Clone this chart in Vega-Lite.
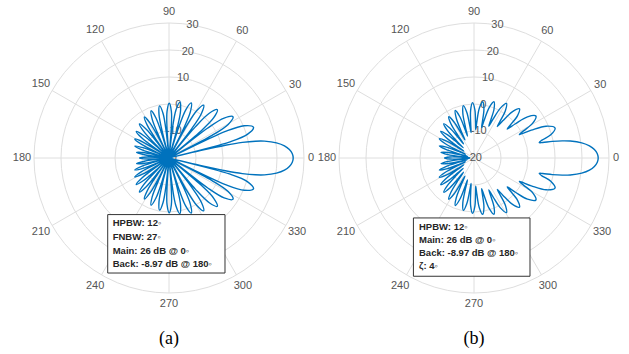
{
"$schema":"https://vega.github.io/schema/vega-lite/v6.json",
"padding":{"left":12,"top":6,"right":5,"bottom":5},
"bounds":"flush",
"spacing":5,
"config":{"view":{"stroke":null},"font":"Liberation Sans"},
"datasets":{
"rings":[{"v":-10},{"v":0},{"v":10},{"v":20},{"v":30}],
"spokes":[{"a":0},{"a":30},{"a":60},{"a":90},{"a":120},{"a":150}],
"ang":[{"a":0,"s":"0"},{"a":30,"s":"30"},{"a":60,"s":"60"},{"a":90,"s":"90"},{"a":120,"s":"120"},{"a":150,"s":"150"},{"a":180,"s":"180"},{"a":210,"s":"210"},{"a":240,"s":"240"},{"a":270,"s":"270"},{"a":300,"s":"300"},{"a":330,"s":"330"}],
"rt":[{"v":-20,"s":"-20"},{"v":-10,"s":"-10"},{"v":0,"s":"0"},{"v":10,"s":"10"},{"v":20,"s":"20"},{"v":30,"s":"30"}],
"a":[{"t":-180,"v":-8.97},{"t":-177.5,"v":-12},{"t":-176,"v":-19.2},{"t":-175,"v":-20},{"t":-174.05,"v":-18},{"t":-172.6,"v":-10.8},{"t":-170.25,"v":-7.8},{"t":-167.9,"v":-10.8},{"t":-166.45,"v":-18},{"t":-165.5,"v":-20},{"t":-164.55,"v":-16.8},{"t":-163.1,"v":-9.6},{"t":-160.75,"v":-6.6},{"t":-158.4,"v":-9.6},{"t":-156.95,"v":-16.8},{"t":-156,"v":-20},{"t":-155,"v":-15.7},{"t":-153.5,"v":-8.5},{"t":-151,"v":-5.5},{"t":-148.5,"v":-8.5},{"t":-147,"v":-15.7},{"t":-146,"v":-20},{"t":-145,"v":-14.6},{"t":-143.5,"v":-7.4},{"t":-141,"v":-4.4},{"t":-138.5,"v":-7.4},{"t":-137,"v":-14.6},{"t":-136,"v":-20},{"t":-135,"v":-13.5},{"t":-133.5,"v":-6.3},{"t":-131,"v":-3.3},{"t":-128.5,"v":-6.3},{"t":-127,"v":-13.5},{"t":-126,"v":-20},{"t":-125,"v":-12.5},{"t":-123.5,"v":-5.3},{"t":-121,"v":-2.3},{"t":-118.5,"v":-5.3},{"t":-117,"v":-12.5},{"t":-116,"v":-20},{"t":-114.95,"v":-11.5},{"t":-113.4,"v":-4.3},{"t":-110.75,"v":-1.3},{"t":-108.1,"v":-4.3},{"t":-106.55,"v":-11.5},{"t":-105.5,"v":-20},{"t":-104.45,"v":-10.6},{"t":-102.9,"v":-3.4},{"t":-100.25,"v":-0.4},{"t":-97.6,"v":-3.4},{"t":-96.05,"v":-10.6},{"t":-95,"v":-20},{"t":-93.95,"v":-9.9},{"t":-92.4,"v":-2.7},{"t":-89.75,"v":0.3},{"t":-87.1,"v":-2.7},{"t":-85.55,"v":-9.9},{"t":-84.5,"v":-20},{"t":-83.4,"v":-9.2},{"t":-81.75,"v":-2},{"t":-79,"v":1},{"t":-76.25,"v":-2},{"t":-74.6,"v":-9.2},{"t":-73.5,"v":-20},{"t":-72.4,"v":-8.2},{"t":-70.75,"v":-1},{"t":-68,"v":2},{"t":-65.25,"v":-1},{"t":-63.6,"v":-8.2},{"t":-62.5,"v":-20},{"t":-61.35,"v":-6.8},{"t":-59.6,"v":0.4},{"t":-56.75,"v":3.4},{"t":-53.9,"v":0.4},{"t":-52.15,"v":-6.8},{"t":-51,"v":-20},{"t":-49.8,"v":-4.9},{"t":-48,"v":2.3},{"t":-45,"v":5.3},{"t":-42,"v":2.3},{"t":-40.2,"v":-4.9},{"t":-39,"v":-20},{"t":-37.75,"v":-2},{"t":-35.9,"v":5.2},{"t":-32.75,"v":8.2},{"t":-29.6,"v":5.2},{"t":-27.75,"v":-2},{"t":-26.5,"v":-20},{"t":-25.2,"v":3.1},{"t":-23.25,"v":10.3},{"t":-20,"v":13.3},{"t":-16.75,"v":10.3},{"t":-14.8,"v":3.1},{"t":-13.5,"v":-20},{"t":-13.25,"v":-8.5},{"t":-12.75,"v":1.4},{"t":-12,"v":7.8},{"t":-11,"v":12.6},{"t":-10,"v":15.9},{"t":-8,"v":20.2},{"t":-6,"v":23},{"t":-4,"v":24.7},{"t":-2,"v":25.7},
{"t":0,"v":26},{"t":2,"v":25.7},{"t":4,"v":24.7},{"t":6,"v":23},{"t":8,"v":20.2},{"t":10,"v":15.9},{"t":11,"v":12.6},{"t":12,"v":7.8},{"t":12.75,"v":1.4},{"t":13.25,"v":-8.5},{"t":13.5,"v":-20},{"t":14.8,"v":3.1},{"t":16.75,"v":10.3},{"t":20,"v":13.3},{"t":23.25,"v":10.3},{"t":25.2,"v":3.1},{"t":26.5,"v":-20},{"t":27.75,"v":-2},{"t":29.6,"v":5.2},{"t":32.75,"v":8.2},{"t":35.9,"v":5.2},{"t":37.75,"v":-2},{"t":39,"v":-20},{"t":40.2,"v":-4.9},{"t":42,"v":2.3},{"t":45,"v":5.3},{"t":48,"v":2.3},{"t":49.8,"v":-4.9},{"t":51,"v":-20},{"t":52.15,"v":-6.8},{"t":53.9,"v":0.4},{"t":56.75,"v":3.4},{"t":59.6,"v":0.4},{"t":61.35,"v":-6.8},{"t":62.5,"v":-20},{"t":63.6,"v":-8.2},{"t":65.25,"v":-1},{"t":68,"v":2},{"t":70.75,"v":-1},{"t":72.4,"v":-8.2},{"t":73.5,"v":-20},{"t":74.6,"v":-9.2},{"t":76.25,"v":-2},{"t":79,"v":1},{"t":81.75,"v":-2},{"t":83.4,"v":-9.2},{"t":84.5,"v":-20},{"t":85.55,"v":-9.9},{"t":87.1,"v":-2.7},{"t":89.75,"v":0.3},{"t":92.4,"v":-2.7},{"t":93.95,"v":-9.9},{"t":95,"v":-20},{"t":96.05,"v":-10.6},{"t":97.6,"v":-3.4},{"t":100.25,"v":-0.4},{"t":102.9,"v":-3.4},{"t":104.45,"v":-10.6},{"t":105.5,"v":-20},{"t":106.55,"v":-11.5},{"t":108.1,"v":-4.3},{"t":110.75,"v":-1.3},{"t":113.4,"v":-4.3},{"t":114.95,"v":-11.5},{"t":116,"v":-20},{"t":117,"v":-12.5},{"t":118.5,"v":-5.3},{"t":121,"v":-2.3},{"t":123.5,"v":-5.3},{"t":125,"v":-12.5},{"t":126,"v":-20},{"t":127,"v":-13.5},{"t":128.5,"v":-6.3},{"t":131,"v":-3.3},{"t":133.5,"v":-6.3},{"t":135,"v":-13.5},{"t":136,"v":-20},{"t":137,"v":-14.6},{"t":138.5,"v":-7.4},{"t":141,"v":-4.4},{"t":143.5,"v":-7.4},{"t":145,"v":-14.6},{"t":146,"v":-20},{"t":147,"v":-15.7},{"t":148.5,"v":-8.5},{"t":151,"v":-5.5},{"t":153.5,"v":-8.5},{"t":155,"v":-15.7},{"t":156,"v":-20},{"t":156.95,"v":-16.8},{"t":158.4,"v":-9.6},{"t":160.75,"v":-6.6},{"t":163.1,"v":-9.6},{"t":164.55,"v":-16.8},{"t":165.5,"v":-20},{"t":166.45,"v":-18},{"t":167.9,"v":-10.8},{"t":170.25,"v":-7.8},{"t":172.6,"v":-10.8},{"t":174.05,"v":-18},{"t":175,"v":-20},{"t":176,"v":-19.2},{"t":177.5,"v":-12},{"t":180,"v":-8.97}],
"b":[{"t":-180,"v":-8.97},{"t":-177.5,"v":-11.1},{"t":-176,"v":-15.8},{"t":-175,"v":-18.5},{"t":-174.05,"v":-15.3},{"t":-172.6,"v":-10.3},{"t":-170.25,"v":-7.6},{"t":-167.9,"v":-10.2},{"t":-166.45,"v":-14.9},{"t":-165.5,"v":-17.5},{"t":-164.55,"v":-14.2},{"t":-163.1,"v":-9.1},{"t":-160.75,"v":-6.4},{"t":-158.4,"v":-9},{"t":-156.95,"v":-13.8},{"t":-156,"v":-16.5},{"t":-155,"v":-13.1},{"t":-153.5,"v":-8},{"t":-151,"v":-5.3},{"t":-148.5,"v":-7.9},{"t":-147,"v":-12.75},{"t":-146,"v":-15.5},{"t":-145.05,"v":-12.1},{"t":-143.6,"v":-6.9},{"t":-141.25,"v":-4.2},{"t":-138.9,"v":-6.85},{"t":-137.45,"v":-11.7},{"t":-136.5,"v":-14.5},{"t":-135.5,"v":-11},{"t":-134,"v":-5.8},{"t":-131.5,"v":-3.1},{"t":-129,"v":-5.75},{"t":-127.5,"v":-10.65},{"t":-126.5,"v":-13.5},{"t":-125.5,"v":-10},{"t":-124,"v":-4.8},{"t":-121.5,"v":-2.1},{"t":-119,"v":-4.75},{"t":-117.5,"v":-9.65},{"t":-116.5,"v":-12.5},{"t":-115.5,"v":-9},{"t":-114,"v":-3.8},{"t":-111.5,"v":-1.1},{"t":-109,"v":-3.75},{"t":-107.5,"v":-8.65},{"t":-106.5,"v":-11.5},{"t":-105.5,"v":-8.1},{"t":-104,"v":-2.9},{"t":-101.5,"v":-0.2},{"t":-99,"v":-2.85},{"t":-97.5,"v":-7.7},{"t":-96.5,"v":-10.5},{"t":-95.5,"v":-7.2},{"t":-94,"v":-2.2},{"t":-91.5,"v":0.5},{"t":-89,"v":-2.1},{"t":-87.5,"v":-6.85},{"t":-86.5,"v":-9.5},{"t":-85.45,"v":-6.4},{"t":-83.9,"v":-1.5},{"t":-81.25,"v":1.1},{"t":-78.6,"v":-1.4},{"t":-77.05,"v":-5.9},{"t":-76,"v":-8.3},{"t":-74.9,"v":-5.4},{"t":-73.25,"v":-0.5},{"t":-70.5,"v":2.1},{"t":-67.75,"v":-0.4},{"t":-66.1,"v":-4.8},{"t":-65,"v":-7},{"t":-63.85,"v":-4},{"t":-62.1,"v":0.9},{"t":-59.25,"v":3.5},{"t":-56.4,"v":1},{"t":-54.65,"v":-3.35},{"t":-53.5,"v":-5.5},{"t":-52.25,"v":-2.6},{"t":-50.4,"v":2.2},{"t":-47.25,"v":4.8},{"t":-44.1,"v":2.4},{"t":-42.25,"v":-1.8},{"t":-41,"v":-3.7},{"t":-39.6,"v":-0.1},{"t":-37.6,"v":5},{"t":-34.15,"v":7.7},{"t":-30.7,"v":5.3},{"t":-28.7,"v":0.9},{"t":-27.3,"v":-1.1},{"t":-25.9,"v":3.6},{"t":-23.8,"v":9.2},{"t":-20.3,"v":12},{"t":-16.8,"v":9.7},{"t":-14.7,"v":6},{"t":-13.3,"v":4.8},{"t":-12.75,"v":6.1},{"t":-12,"v":9.6},{"t":-11,"v":13.3},{"t":-10,"v":16.2},{"t":-8,"v":20.3},{"t":-6,"v":23},{"t":-4,"v":24.7},{"t":-2,"v":25.7},
{"t":0,"v":26},{"t":2,"v":25.7},{"t":4,"v":24.7},{"t":6,"v":23},{"t":8,"v":20.3},{"t":10,"v":16.2},{"t":11,"v":13.3},{"t":12,"v":9.6},{"t":12.75,"v":6.1},{"t":13.3,"v":4.8},{"t":14.7,"v":6},{"t":16.8,"v":9.7},{"t":20.3,"v":12},{"t":23.8,"v":9.2},{"t":25.9,"v":3.6},{"t":27.3,"v":-1.1},{"t":28.7,"v":0.9},{"t":30.7,"v":5.3},{"t":34.15,"v":7.7},{"t":37.6,"v":5},{"t":39.6,"v":-0.1},{"t":41,"v":-3.7},{"t":42.25,"v":-1.8},{"t":44.1,"v":2.4},{"t":47.25,"v":4.8},{"t":50.4,"v":2.2},{"t":52.25,"v":-2.6},{"t":53.5,"v":-5.5},{"t":54.65,"v":-3.35},{"t":56.4,"v":1},{"t":59.25,"v":3.5},{"t":62.1,"v":0.9},{"t":63.85,"v":-4},{"t":65,"v":-7},{"t":66.1,"v":-4.8},{"t":67.75,"v":-0.4},{"t":70.5,"v":2.1},{"t":73.25,"v":-0.5},{"t":74.9,"v":-5.4},{"t":76,"v":-8.3},{"t":77.05,"v":-5.9},{"t":78.6,"v":-1.4},{"t":81.25,"v":1.1},{"t":83.9,"v":-1.5},{"t":85.45,"v":-6.4},{"t":86.5,"v":-9.5},{"t":87.5,"v":-6.85},{"t":89,"v":-2.1},{"t":91.5,"v":0.5},{"t":94,"v":-2.2},{"t":95.5,"v":-7.2},{"t":96.5,"v":-10.5},{"t":97.5,"v":-7.7},{"t":99,"v":-2.85},{"t":101.5,"v":-0.2},{"t":104,"v":-2.9},{"t":105.5,"v":-8.1},{"t":106.5,"v":-11.5},{"t":107.5,"v":-8.65},{"t":109,"v":-3.75},{"t":111.5,"v":-1.1},{"t":114,"v":-3.8},{"t":115.5,"v":-9},{"t":116.5,"v":-12.5},{"t":117.5,"v":-9.65},{"t":119,"v":-4.75},{"t":121.5,"v":-2.1},{"t":124,"v":-4.8},{"t":125.5,"v":-10},{"t":126.5,"v":-13.5},{"t":127.5,"v":-10.65},{"t":129,"v":-5.75},{"t":131.5,"v":-3.1},{"t":134,"v":-5.8},{"t":135.5,"v":-11},{"t":136.5,"v":-14.5},{"t":137.45,"v":-11.7},{"t":138.9,"v":-6.85},{"t":141.25,"v":-4.2},{"t":143.6,"v":-6.9},{"t":145.05,"v":-12.1},{"t":146,"v":-15.5},{"t":147,"v":-12.75},{"t":148.5,"v":-7.9},{"t":151,"v":-5.3},{"t":153.5,"v":-8},{"t":155,"v":-13.1},{"t":156,"v":-16.5},{"t":156.95,"v":-13.8},{"t":158.4,"v":-9},{"t":160.75,"v":-6.4},{"t":163.1,"v":-9.1},{"t":164.55,"v":-14.2},{"t":165.5,"v":-17.5},{"t":166.45,"v":-14.9},{"t":167.9,"v":-10.2},{"t":170.25,"v":-7.6},{"t":172.6,"v":-10.3},{"t":174.05,"v":-15.3},{"t":175,"v":-18.5},{"t":176,"v":-15.8},{"t":177.5,"v":-11.1},{"t":180,"v":-8.97}]
},
"hconcat":[
{"width":300,"height":300,
"title":{"text":"(a)","orient":"bottom","frame":"group","anchor":"middle","offset":21,"font":"Liberation Serif","fontSize":18,"fontWeight":"normal","color":"#000000"},
"layer":[
{"data":{"name":"rings"},"transform":[{"calculate":"datum.v+20","as":"r"}],"mark":{"type":"arc","theta":0,"theta2":6.2832,"filled":false,"color":"#dedede","strokeWidth":1},"encoding":{"radius":{"field":"r","type":"quantitative","stack":null,"scale":{"type":"linear","domain":[0,50],"range":[0,135],"zero":true}}}},
{"data":{"name":"spokes"},"transform":[{"calculate":"50*cos(datum.a*PI/180)","as":"x"},{"calculate":"50*sin(datum.a*PI/180)","as":"y"},{"calculate":"-datum.x","as":"x2"},{"calculate":"-datum.y","as":"y2"}],"mark":{"type":"rule","color":"#dedede","strokeWidth":1},"encoding":{"x":{"field":"x","type":"quantitative","scale":{"domain":[-55.556,55.556],"nice":false,"zero":false},"axis":null},"y":{"field":"y","type":"quantitative","scale":{"domain":[-55.556,55.556],"nice":false,"zero":false},"axis":null},"x2":{"field":"x2"},"y2":{"field":"y2"}}},
{"data":{"name":"rt"},"transform":[{"calculate":"(datum.v+20)*cos(80*PI/180)","as":"x"},{"calculate":"(datum.v+20)*sin(80*PI/180)","as":"y"}],"mark":{"type":"text","align":"center","baseline":"middle","fontSize":11,"color":"#555555"},"encoding":{"x":{"field":"x","type":"quantitative","scale":{"domain":[-55.556,55.556],"nice":false,"zero":false},"axis":null},"y":{"field":"y","type":"quantitative","scale":{"domain":[-55.556,55.556],"nice":false,"zero":false},"axis":null},"text":{"field":"s"}}},
{"data":{"name":"ang"},"transform":[{"calculate":"abs(cos(datum.a*PI/180))","as":"c"},{"calculate":"53.89-1.296*pow(datum.c,4)+0.926*datum.c*(length(datum.s)-1)","as":"R"},{"calculate":"datum.R*cos(datum.a*PI/180)","as":"x"},{"calculate":"datum.R*sin(datum.a*PI/180)","as":"y"}],"mark":{"type":"text","align":"center","baseline":"middle","fontSize":11,"color":"#555555"},"encoding":{"x":{"field":"x","type":"quantitative","scale":{"domain":[-55.556,55.556],"nice":false,"zero":false},"axis":null},"y":{"field":"y","type":"quantitative","scale":{"domain":[-55.556,55.556],"nice":false,"zero":false},"axis":null},"text":{"field":"s"}}},
{"data":{"name":"a"},"transform":[{"calculate":"max(datum.v+20,0)","as":"r"},{"calculate":"datum.r*cos(datum.t*PI/180)","as":"x"},{"calculate":"datum.r*sin(datum.t*PI/180)","as":"y"}],"mark":{"type":"line","interpolate":"catmull-rom","color":"#0072BD","strokeWidth":1.4},"encoding":{"x":{"field":"x","type":"quantitative","scale":{"domain":[-55.556,55.556],"nice":false,"zero":false},"axis":null},"y":{"field":"y","type":"quantitative","scale":{"domain":[-55.556,55.556],"nice":false,"zero":false},"axis":null},"order":{"field":"t","type":"quantitative"}}},
{"data":{"values":[{"x":-22.7,"x2":20.74,"y":-20.96,"y2":-42.6}]},"mark":{"type":"rect","fill":"#ffffff","stroke":"#333333","strokeWidth":1},"encoding":{"x":{"field":"x","type":"quantitative","scale":{"domain":[-55.556,55.556],"nice":false,"zero":false},"axis":null},"y":{"field":"y","type":"quantitative","scale":{"domain":[-55.556,55.556],"nice":false,"zero":false},"axis":null},"x2":{"field":"x2"},"y2":{"field":"y2"}}},
{"data":{"values":[{"x":-20.85,"y":-24.07,"s":"HPBW: 12◦"},{"x":-20.85,"y":-29.37,"s":"FNBW: 27◦"},{"x":-20.85,"y":-34.3,"s":"Main: 26 dB @ 0◦"},{"x":-20.85,"y":-39.26,"s":"Back: -8.97 dB @ 180◦"}]},"mark":{"type":"text","align":"left","baseline":"middle","fontSize":9.5,"fontWeight":"bold","color":"#262626"},"encoding":{"x":{"field":"x","type":"quantitative","scale":{"domain":[-55.556,55.556],"nice":false,"zero":false},"axis":null},"y":{"field":"y","type":"quantitative","scale":{"domain":[-55.556,55.556],"nice":false,"zero":false},"axis":null},"text":{"field":"s"}}}
]},
{"width":300,"height":300,
"title":{"text":"(b)","orient":"bottom","frame":"group","anchor":"middle","offset":21,"font":"Liberation Serif","fontSize":18,"fontWeight":"normal","color":"#000000"},
"layer":[
{"data":{"name":"rings"},"transform":[{"calculate":"datum.v+20","as":"r"}],"mark":{"type":"arc","theta":0,"theta2":6.2832,"filled":false,"color":"#dedede","strokeWidth":1},"encoding":{"radius":{"field":"r","type":"quantitative","stack":null,"scale":{"type":"linear","domain":[0,50],"range":[0,135],"zero":true}}}},
{"data":{"name":"spokes"},"transform":[{"calculate":"50*cos(datum.a*PI/180)","as":"x"},{"calculate":"50*sin(datum.a*PI/180)","as":"y"},{"calculate":"-datum.x","as":"x2"},{"calculate":"-datum.y","as":"y2"}],"mark":{"type":"rule","color":"#dedede","strokeWidth":1},"encoding":{"x":{"field":"x","type":"quantitative","scale":{"domain":[-55.556,55.556],"nice":false,"zero":false},"axis":null},"y":{"field":"y","type":"quantitative","scale":{"domain":[-55.556,55.556],"nice":false,"zero":false},"axis":null},"x2":{"field":"x2"},"y2":{"field":"y2"}}},
{"data":{"name":"rt"},"transform":[{"calculate":"(datum.v+20)*cos(80*PI/180)","as":"x"},{"calculate":"(datum.v+20)*sin(80*PI/180)","as":"y"}],"mark":{"type":"text","align":"center","baseline":"middle","fontSize":11,"color":"#555555"},"encoding":{"x":{"field":"x","type":"quantitative","scale":{"domain":[-55.556,55.556],"nice":false,"zero":false},"axis":null},"y":{"field":"y","type":"quantitative","scale":{"domain":[-55.556,55.556],"nice":false,"zero":false},"axis":null},"text":{"field":"s"}}},
{"data":{"name":"ang"},"transform":[{"calculate":"abs(cos(datum.a*PI/180))","as":"c"},{"calculate":"53.89-1.296*pow(datum.c,4)+0.926*datum.c*(length(datum.s)-1)","as":"R"},{"calculate":"datum.R*cos(datum.a*PI/180)","as":"x"},{"calculate":"datum.R*sin(datum.a*PI/180)","as":"y"}],"mark":{"type":"text","align":"center","baseline":"middle","fontSize":11,"color":"#555555"},"encoding":{"x":{"field":"x","type":"quantitative","scale":{"domain":[-55.556,55.556],"nice":false,"zero":false},"axis":null},"y":{"field":"y","type":"quantitative","scale":{"domain":[-55.556,55.556],"nice":false,"zero":false},"axis":null},"text":{"field":"s"}}},
{"data":{"name":"b"},"transform":[{"calculate":"max(datum.v+20,0)","as":"r"},{"calculate":"datum.r*cos(datum.t*PI/180)","as":"x"},{"calculate":"datum.r*sin(datum.t*PI/180)","as":"y"}],"mark":{"type":"line","interpolate":"catmull-rom","color":"#0072BD","strokeWidth":1.4},"encoding":{"x":{"field":"x","type":"quantitative","scale":{"domain":[-55.556,55.556],"nice":false,"zero":false},"axis":null},"y":{"field":"y","type":"quantitative","scale":{"domain":[-55.556,55.556],"nice":false,"zero":false},"axis":null},"order":{"field":"t","type":"quantitative"}}},
{"data":{"values":[{"x":-22.44,"x2":20.74,"y":-22.2,"y2":-43.8}]},"mark":{"type":"rect","fill":"#ffffff","stroke":"#333333","strokeWidth":1},"encoding":{"x":{"field":"x","type":"quantitative","scale":{"domain":[-55.556,55.556],"nice":false,"zero":false},"axis":null},"y":{"field":"y","type":"quantitative","scale":{"domain":[-55.556,55.556],"nice":false,"zero":false},"axis":null},"x2":{"field":"x2"},"y2":{"field":"y2"}}},
{"data":{"values":[{"x":-20.37,"y":-25.56,"s":"HPBW: 12◦"},{"x":-20.37,"y":-30.48,"s":"Main: 26 dB @ 0◦"},{"x":-20.37,"y":-35.19,"s":"Back: -8.97 dB @ 180◦"},{"x":-20.37,"y":-39.85,"s":"ζ: 4◦"}]},"mark":{"type":"text","align":"left","baseline":"middle","fontSize":9.5,"fontWeight":"bold","color":"#262626"},"encoding":{"x":{"field":"x","type":"quantitative","scale":{"domain":[-55.556,55.556],"nice":false,"zero":false},"axis":null},"y":{"field":"y","type":"quantitative","scale":{"domain":[-55.556,55.556],"nice":false,"zero":false},"axis":null},"text":{"field":"s"}}}
]}
]
}
